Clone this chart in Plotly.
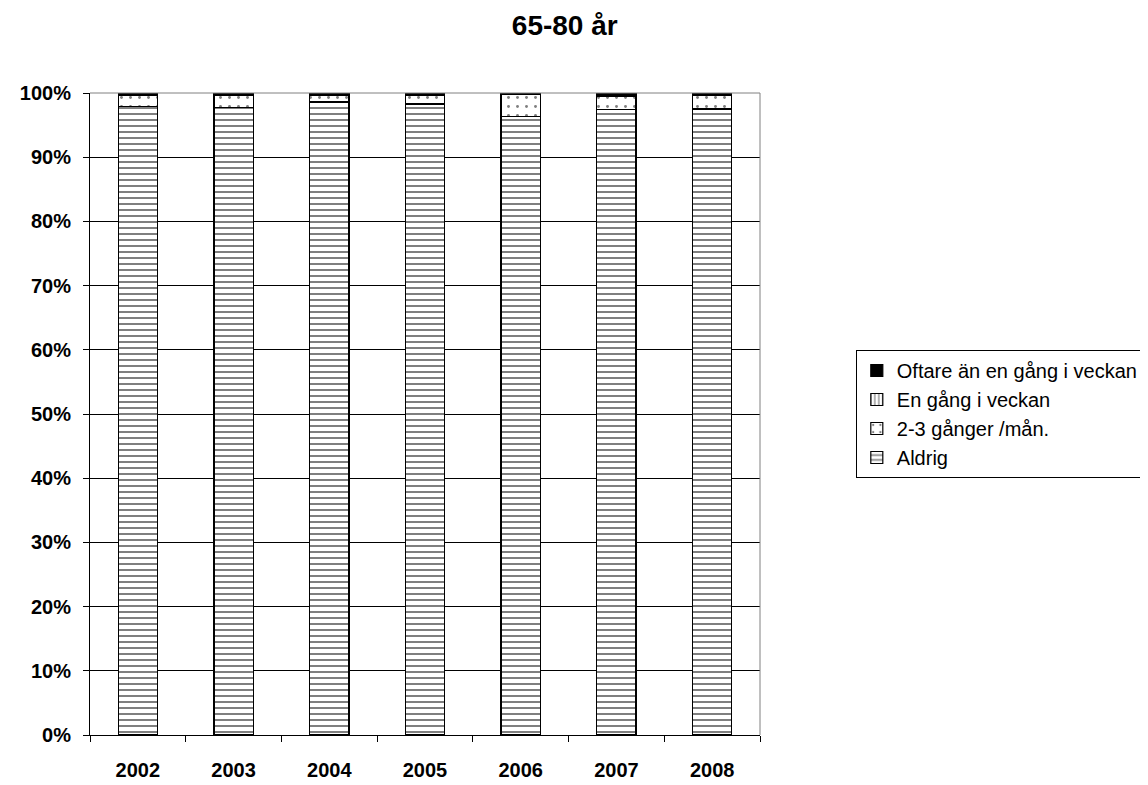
import plotly.graph_objects as go

years = ["2002", "2003", "2004", "2005", "2006", "2007", "2008"]
aldrig = [97.9, 97.7, 98.6, 98.3, 96.3, 97.4, 97.5]
tva_tre = [1.8, 2.0, 1.1, 1.4, 3.5, 2.1, 2.1]
en_gang = [0.0, 0.3, 0.0, 0.0, 0.0, 0.0, 0.0]
oftare = [0.3, 0.0, 0.3, 0.3, 0.2, 0.5, 0.4]

series = [
    ("Aldrig", aldrig, "-", 6, 0.34),
    ("2-3 gånger /mån.", tva_tre, ".", 9, 0.08),
    ("En gång i veckan", en_gang, "|", 5, 0.3),
    ("Oftare än en gång i veckan", oftare, "", 0, 0),
]

fig = go.Figure()
for name, vals, shape, psize, psol in series:
    if shape:
        marker = dict(color="white", line=dict(color="black", width=1.2),
                      pattern=dict(shape=shape, fgcolor="black", bgcolor="white",
                                   size=psize, solidity=psol))
    else:
        marker = dict(color="black", line=dict(color="black", width=1.2))
    fig.add_trace(go.Bar(x=years, y=vals, name=name, marker=marker, width=0.41))

L, T, PW, PH = 75, 85, 685, 649
fig.update_layout(
    barmode="stack",
    width=1148, height=785,
    paper_bgcolor="white", plot_bgcolor="white",
    margin=dict(l=L, r=1148 - L - PW, t=T, b=785 - T - PH),
    font=dict(family="Arial, Liberation Sans", size=20, color="black"),
    title=dict(text="<b>65-80 år</b>", x=0.485, xanchor="center",
               y=0.978, yanchor="middle", font=dict(size=28)),
    legend=dict(traceorder="reversed", x=1.143, xanchor="left", y=0.5, yanchor="middle",
                bordercolor="black", borderwidth=1, font=dict(size=20),
                tracegroupgap=0),
    showlegend=True,
)
fig.update_yaxes(range=[0, 100], dtick=10, ticksuffix="%", tickfont=dict(size=20, weight="bold"),
                 showgrid=True, gridcolor="black", gridwidth=1,
                 showline=True, linecolor="black", linewidth=1,
                 ticks="outside", ticklen=6, tickcolor="black", zeroline=False,
                 ticklabelstandoff=8)
fig.update_xaxes(tickfont=dict(size=20, weight="bold"), showline=True, linecolor="black",
                 linewidth=1, ticks="outside", tickson="boundaries", ticklen=6,
                 tickcolor="black", ticklabelstandoff=17)
fig.add_shape(type="line", xref="paper", yref="paper", x0=1, x1=1, y0=0, y1=1,
              line=dict(color="#808080", width=1))
fig.add_shape(type="line", xref="paper", yref="paper", x0=0, x1=1, y0=1, y1=1,
              line=dict(color="#808080", width=1))

fig.write_html("out.html")
